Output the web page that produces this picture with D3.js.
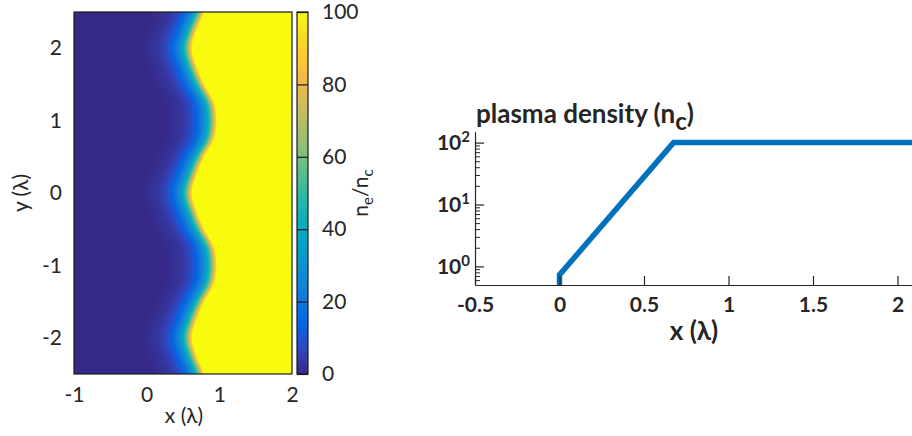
<!DOCTYPE html>
<html><head><meta charset="utf-8">
<script src="https://cdn.jsdelivr.net/npm/d3@7"></script>
<style>
body{margin:0;background:#fff}
svg{display:block}
text{font-family:Lato, "Open Sans", sans-serif; fill:#262626}
</style>
</head><body>
<svg id="chart" width="912" height="436"></svg>
<script>
// ---------------- data ----------------
const mapXDomain = [-1, 2];
const mapYDomain = [-2.5, 2.5];
const mapXTicks = [-1, 0, 1, 2];
const mapYTicks = [-2, -1, 0, 1, 2];
const boundaryY = [-2.5,-2.25,-2,-1.75,-1.5,-1.25,-1,-0.75,-0.5,-0.25,0,0.25,0.5,0.75,1,1.25,1.5,1.75,2,2.25,2.5];
const boundaryX = [0.79,0.69,0.625,0.69,0.795,0.93,0.965,0.93,0.795,0.69,0.625,0.69,0.795,0.93,0.965,0.93,0.795,0.69,0.625,0.69,0.79];
const colorDomain = [0, 100];
const colorTicks = [0, 20, 40, 60, 80, 100];
// 1-D density profile (n_c)
const profileX = [0, 0, 0.675, 2.2];
const profileN = [0.5, 0.73, 100, 100];
const lineXDomain = [-0.5, 2.1];
const lineYDomain = [0.5, 150];
const lineXTicks = [-0.5, 0, 0.5, 1, 1.5, 2];
const lineYMajor = [1, 10, 100];
const lineYMinor = [0.6,0.7,0.8,0.9,2,3,4,5,6,7,8,9,20,30,40,50,60,70,80,90];

// parula colormap stops (style)
const parula = ["#352a87","#353dad","#2053d4","#0268e1","#0d75dc","#1481d6","#108ed2","#079ccf","#06a7c6","#0faeb9","#25b5a9","#42bb98","#65be86","#87bf77","#a5be6b","#c0bc60","#d9ba56","#f1b94a","#ffc337","#fad32a","#f5e41d","#f9fb0e"];
const cmap = d3.scaleLinear()
  .domain(parula.map((_, i) => colorDomain[0] + i / (parula.length - 1) * (colorDomain[1] - colorDomain[0])))
  .range(parula).interpolate(d3.interpolateRgb).clamp(true);

const svg = d3.select("#chart");
const ink = "#262626";

// ---------------- helpers ----------------
function boundaryAt(y) {
  const n = boundaryY.length, h = boundaryY[1] - boundaryY[0];
  let t = (y - boundaryY[0]) / h;
  let i = Math.max(0, Math.min(n - 2, Math.floor(t)));
  const u = t - i;
  const p0 = boundaryX[Math.max(i - 1, 0)], p1 = boundaryX[i], p2 = boundaryX[i + 1], p3 = boundaryX[Math.min(i + 2, n - 1)];
  return 0.5 * (2 * p1 + (-p0 + p2) * u + (2 * p0 - 5 * p1 + 4 * p2 - p3) * u * u + (-p0 + 3 * p1 - 3 * p2 + p3) * u * u * u);
}
function densityAt(s) {
  if (s < profileX[0]) return 0;
  for (let k = 0; k < profileX.length - 1; k++) {
    const a = profileX[k], b = profileX[k + 1];
    if (b === a) continue;
    if (s >= a && s <= b) {
      const f = (s - a) / (b - a);
      return Math.exp(Math.log(profileN[k]) + f * (Math.log(profileN[k + 1]) - Math.log(profileN[k])));
    }
  }
  return profileN[profileN.length - 1];
}
const surfaceRef = profileX[2];

// ---------------- left: density map ----------------
const mL = 74, mR = 292, mT = 12, mB = 374;
const mx = d3.scaleLinear(mapXDomain, [mL, mR]);
const my = d3.scaleLinear(mapYDomain, [mB, mT]);

const W = mR - mL, H = mB - mT;
const canvas = document.createElement("canvas");
canvas.width = W; canvas.height = H;
const ctx = canvas.getContext("2d");
const img = ctx.createImageData(W, H);
for (let j = 0; j < H; j++) {
  const y = my.invert(mT + j + 0.5);
  const xs = boundaryAt(y);
  for (let i = 0; i < W; i++) {
    const x = mx.invert(mL + i + 0.5);
    const v = densityAt(x - xs + surfaceRef);
    const c = d3.rgb(cmap(v));
    const o = (j * W + i) * 4;
    img.data[o] = c.r; img.data[o + 1] = c.g; img.data[o + 2] = c.b; img.data[o + 3] = 255;
  }
}
ctx.putImageData(img, 0, 0);
svg.append("image").attr("x", mL).attr("y", mT).attr("width", W).attr("height", H)
  .attr("preserveAspectRatio", "none").attr("href", canvas.toDataURL());
svg.append("rect").attr("x", mL).attr("y", mT).attr("width", W).attr("height", H)
  .attr("fill", "none").attr("stroke", "#1a1a1a").attr("stroke-width", 1.2);

const fmt = d => String(d);
const gx = svg.append("g").attr("transform", `translate(0,${mB})`)
  .call(d3.axisBottom(mx).tickValues(mapXTicks).tickFormat(fmt).tickSize(0).tickPadding(13));
gx.select(".domain").remove();
gx.selectAll("text").attr("font-size", 21).attr("font-family", "Lato").attr("fill", ink);
const gy = svg.append("g").attr("transform", `translate(${mL},0)`)
  .call(d3.axisLeft(my).tickValues(mapYTicks).tickFormat(fmt).tickSize(0).tickPadding(12));
gy.select(".domain").remove();
gy.selectAll("text").attr("font-size", 21).attr("font-family", "Lato").attr("fill", ink);

svg.append("text").attr("x", (mL + mR) / 2 + 1).attr("y", 423).attr("text-anchor", "middle")
  .attr("font-size", 21).text("x (λ)");
svg.append("text").attr("transform", "translate(28,193) rotate(-90)").attr("text-anchor", "middle")
  .attr("font-size", 21).text("y (λ)");

// colorbar
const cL = 297, cW = 11;
const cy = d3.scaleLinear(colorDomain, [mB, mT]);
const defs = svg.append("defs");
const grad = defs.append("linearGradient").attr("id", "cbar").attr("x1", 0).attr("y1", 1).attr("x2", 0).attr("y2", 0);
d3.range(0, 101, 2).forEach(v => grad.append("stop").attr("offset", v / 100).attr("stop-color", cmap(v)));
svg.append("rect").attr("x", cL).attr("y", mT).attr("width", cW).attr("height", H)
  .attr("fill", "url(#cbar)").attr("stroke", "#1a1a1a").attr("stroke-width", 1.2);
const gc = svg.append("g").attr("transform", `translate(${cL + cW},0)`)
  .call(d3.axisRight(cy).tickValues(colorTicks).tickFormat(fmt).tickSize(-cW).tickPadding(14));
gc.select(".domain").remove();
gc.selectAll("line").attr("stroke", "#1a1a1a").attr("stroke-width", 1.2);
gc.selectAll("text").attr("font-size", 21).attr("font-family", "Lato").attr("fill", ink);
const cl = svg.append("text").attr("transform", "translate(368,193) rotate(-90)").attr("text-anchor", "middle")
  .attr("font-size", 21);
cl.append("tspan").text("n");
cl.append("tspan").attr("font-size", 15).attr("dy", 5).text("e");
cl.append("tspan").attr("dy", -5).text("/n");
cl.append("tspan").attr("font-size", 15).attr("dy", 5).text("c");

// ---------------- right: 1-D profile ----------------
const lL = 475, lB = 285;
const lx = d3.scaleLinear(lineXDomain, [lL, lL + (lineXDomain[1] - lineXDomain[0]) * 169]);
const ly = d3.scaleLog(lineYDomain, [lB, 131.7]);

defs.append("clipPath").attr("id", "lclip").append("rect")
  .attr("x", lL).attr("y", 120).attr("width", 912 - lL).attr("height", lB - 120);
const line = d3.line().x((d, i) => lx(profileX[i])).y((d, i) => ly(profileN[i]));
svg.append("path").datum(profileX).attr("d", line).attr("clip-path", "url(#lclip)")
  .attr("fill", "none").attr("stroke", "#0072bd").attr("stroke-width", 5.5).attr("stroke-linejoin", "miter");

const lgx = svg.append("g").attr("transform", `translate(0,${lB})`)
  .call(d3.axisBottom(lx).tickValues(lineXTicks).tickFormat(fmt).tickSize(-9).tickSizeOuter(0).tickPadding(12));
lgx.selectAll("line,path").attr("stroke", ink).attr("stroke-width", 1.2);
lgx.selectAll("text").attr("font-size", 21).attr("font-weight", "bold").attr("font-family", "Lato").attr("fill", ink);

const lgyMinor = svg.append("g").attr("transform", `translate(${lL},0)`)
  .call(d3.axisLeft(ly).tickValues(lineYMinor).tickFormat(() => "").tickSize(-5).tickSizeOuter(0));
lgyMinor.select(".domain").remove();
lgyMinor.selectAll("line").attr("stroke", ink).attr("stroke-width", 1);
const lgy = svg.append("g").attr("transform", `translate(${lL},0)`)
  .call(d3.axisLeft(ly).tickValues(lineYMajor).tickFormat(() => "").tickSize(-9).tickSizeOuter(0).tickPadding(5));
lgy.selectAll("line,path").attr("stroke", ink).attr("stroke-width", 1.2);
lgy.selectAll(".tick text").each(function (d) {
  const t = d3.select(this).attr("font-size", 21).attr("font-weight", "bold").attr("font-family", "Lato").attr("fill", ink);
  t.text("10");
  t.append("tspan").attr("font-size", 15).attr("dy", "-0.5em").text(Math.round(Math.log10(d)));
});

const title = svg.append("text").attr("x", 476).attr("y", 123).attr("font-size", 26).attr("font-weight", "bold");
title.append("tspan").text("plasma density (n");
title.append("tspan").attr("dy", 7).attr("font-size", 24).text("c");
title.append("tspan").attr("dy", -7).text(")");

svg.append("text").attr("x", 694).attr("y", 340).attr("text-anchor", "middle")
  .attr("font-size", 26).attr("font-weight", "bold").text("x (λ)");
</script>
</body></html>
